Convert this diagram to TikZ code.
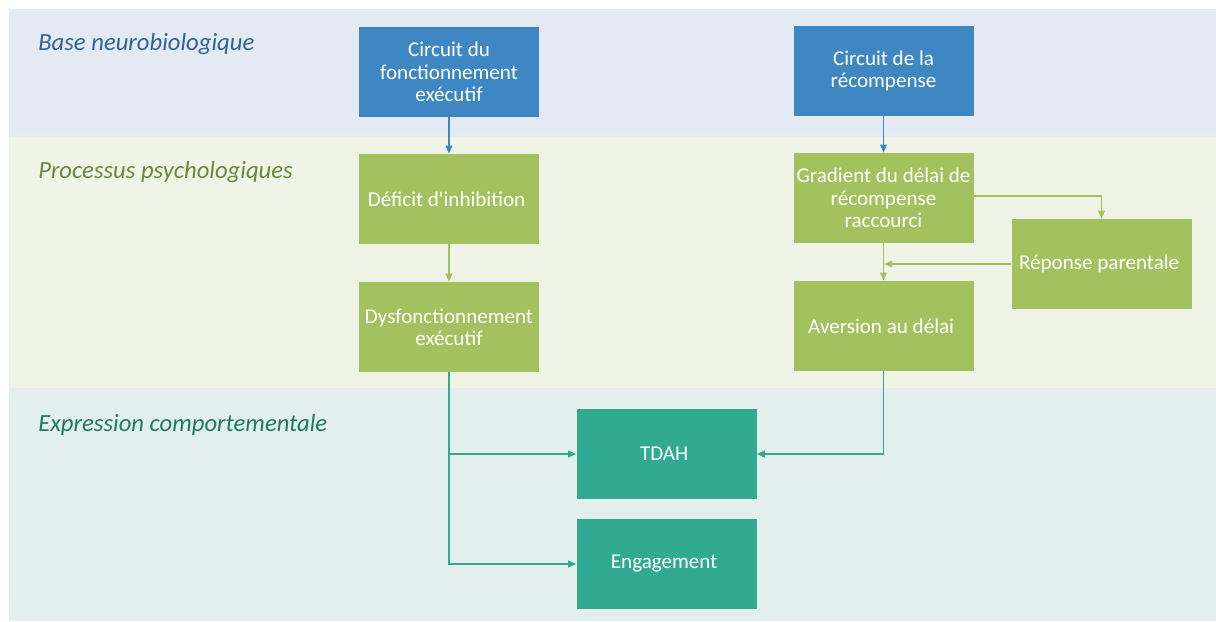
\documentclass[tikz,border=0pt]{standalone}
\usepackage{fontspec}
\setmainfont{Carlito}
\usetikzlibrary{arrows.meta}

\definecolor{bandblue}{HTML}{E3EAF3}
\definecolor{bandgreen}{HTML}{F0F4E6}
\definecolor{bandteal}{HTML}{E3EFEC}
\definecolor{boxblue}{HTML}{3F87C3}
\definecolor{boxgreen}{HTML}{A3C15E}
\definecolor{boxteal}{HTML}{31AA91}
\definecolor{txtblue}{HTML}{2E6496}
\definecolor{txtgreen}{HTML}{698A3A}
\definecolor{txtteal}{HTML}{1E7A63}

\tikzset{
  box/.style={minimum width=135pt,minimum height=67.5pt,inner sep=2pt,
    text=white,align=center,font=\fontsize{15.8}{16.8}\selectfont},
  bandlabel/.style={anchor=west,inner sep=0pt,font=\fontsize{18.5}{20}\selectfont\itshape},
  link/.style={->,line width=1.1pt}
}

\begin{document}
\begin{tikzpicture}[x=0.75pt,y=-0.75pt,>={Triangle[length=6pt,width=5pt]}]
            \useasboundingbox (0, 0) rectangle (1216, 621);

            % bands
            \fill[bandblue] (9, 9) rectangle (1216, 136);
            \fill[bandgreen] (9, 136) rectangle (1216, 389);
            \fill[bandteal] (9, 389) rectangle (1216, 621);
            \draw[line width=0.8pt, black!8] (9, 136) -- (1216, 136);
            \draw[line width=0.8pt, black!8] (9, 389) -- (1216, 389);

            \node[bandlabel, text=txtblue] (BASE) at (38, 44) { Base neurobiologique };
            \node[bandlabel, text=txtgreen] (PSY) at (38, 172) { Processus psychologiques };
            \node[bandlabel, text=txtteal] (EXPR) at (38, 425) { Expression comportementale };

            \node[box, fill=boxblue] (CFE) at (449, 72) { Circuit du\\fonctionnement\\exécutif };
            \node[box, fill=boxblue] (CR) at (883.5, 71) { Circuit de la\\récompense };
            \node[box, fill=boxgreen] (DI) at (449, 199) { Déficit d\textquotesingle inhibition };
            \node[box, fill=boxgreen] (DE) at (449, 327) { Dysfonctionnement\\exécutif };
            \node[box, fill=boxgreen] (GD) at (883.5, 198) { Gradient\ du délai de\\récompense\\raccourci };
            \node[box, fill=boxgreen] (RP) at (1101.5, 264) { Réponse parentale };
            \node[box, fill=boxgreen] (AD) at (883.5, 326) { Aversion au délai };
            \node[box, fill=boxteal] (TDAH) at (666.5, 454) { TDAH };
            \node[box, fill=boxteal] (ENG) at (666.5, 564) { Engagement };

            \coordinate (J) at (884, 264);

            \draw[link, boxblue] (CFE) -- (DI);
            \draw[link, boxblue] (CR) -- (GD);
            \draw[link, boxgreen] (DI) -- (DE);
            \draw[link, boxgreen] (GD) -- (AD);
            \draw[link, boxgreen] (GD.east |- 0, 196) -| (RP);
            \draw[link, boxgreen] (RP) -- (J);
            \draw[link, boxteal] (DE) |- (TDAH);
            \draw[link, boxteal] (DE) |- (ENG);
            \draw[link, boxteal] (AD) |- (TDAH);

        \end{tikzpicture}
\end{document}
